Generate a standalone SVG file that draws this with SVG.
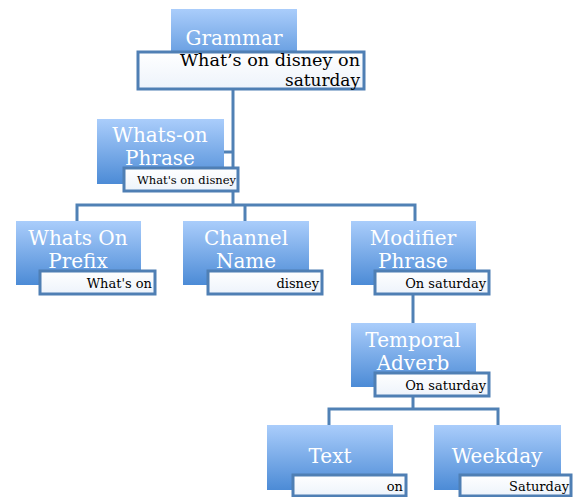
<svg xmlns="http://www.w3.org/2000/svg" width="573" height="497" viewBox="0 0 573 497">
<defs>
<linearGradient id="bg" x1="0" y1="0" x2="0" y2="1">
<stop offset="0" stop-color="#aacdfb"/>
<stop offset="1" stop-color="#4c8bd6"/>
</linearGradient>
<linearGradient id="lg" x1="0" y1="0" x2="0" y2="1">
<stop offset="0" stop-color="#ffffff"/>
<stop offset="1" stop-color="#edf3fb"/>
</linearGradient>
</defs>
<style>
.box{fill:url(#bg);stroke:none}
.lab{fill:url(#lg);stroke:#4f7fb4;stroke-width:3}
.t{font-family:"DejaVu Serif","Liberation Serif",serif;font-size:20px;fill:#ffffff;text-anchor:middle}
.l{font-family:"DejaVu Serif","Liberation Serif",serif;font-size:13px;fill:#000000;text-anchor:end}
.c{fill:none;stroke:#5081b5;stroke-width:3}
</style>
<g id="connectors">
<path class="c" d="M233,89 V205"/>
<path class="c" d="M224,152 H233"/>
<path class="c" d="M77,222 V205 H415 V222"/>
<path class="c" d="M245,205 V222"/>
<path class="c" d="M413,294 V323"/>
<path class="c" d="M413,397 V409"/>
<path class="c" d="M329,426 V409 H498 V426"/>
</g>
<g id="grammar">
<rect class="box" x="171" y="9" width="126" height="64"/>
<text class="t" x="234" y="45">Grammar</text>
<rect class="lab" x="138" y="52" width="226" height="37"/>
<text class="l" x="360" y="66" style="font-size:16px" textLength="180" lengthAdjust="spacingAndGlyphs">What’s on disney on</text>
<text class="l" x="360" y="86" style="font-size:16px" textLength="75" lengthAdjust="spacingAndGlyphs">saturday</text>
</g>
<g id="whats-on-phrase">
<rect class="box" x="97" y="119" width="127" height="65"/>
<text class="t" x="160" y="142">Whats-on</text>
<text class="t" x="160" y="165">Phrase</text>
<rect class="lab" x="124" y="168" width="114" height="23"/>
<text class="l" x="236" y="184" style="font-size:11.5px">What's on disney</text>
</g>
<g id="whats-on-prefix">
<rect class="box" x="16" y="221" width="125" height="64"/>
<text class="t" x="78" y="245">Whats On</text>
<text class="t" x="78" y="268">Prefix</text>
<rect class="lab" x="40" y="271" width="115" height="23"/>
<text class="l" x="152" y="288">What's on</text>
</g>
<g id="channel-name">
<rect class="box" x="183" y="221" width="126" height="64"/>
<text class="t" x="246" y="245">Channel</text>
<text class="t" x="246" y="268">Name</text>
<rect class="lab" x="208" y="271" width="114" height="23"/>
<text class="l" x="319" y="288">disney</text>
</g>
<g id="modifier-phrase">
<rect class="box" x="351" y="221" width="125" height="64"/>
<text class="t" x="413" y="245">Modifier</text>
<text class="t" x="413" y="268">Phrase</text>
<rect class="lab" x="375" y="271" width="114" height="23"/>
<text class="l" x="486" y="288">On saturday</text>
</g>
<g id="temporal-adverb">
<rect class="box" x="351" y="323" width="125" height="64"/>
<text class="t" x="413" y="347">Temporal</text>
<text class="t" x="413" y="370">Adverb</text>
<rect class="lab" x="375" y="373" width="114" height="23"/>
<text class="l" x="486" y="390">On saturday</text>
</g>
<g id="text-node">
<rect class="box" x="267" y="425" width="126" height="65"/>
<text class="t" x="330" y="463">Text</text>
<rect class="lab" x="293" y="475" width="113" height="21"/>
<text class="l" x="403" y="491">on</text>
</g>
<g id="weekday">
<rect class="box" x="434" y="425" width="127" height="65"/>
<text class="t" x="497" y="463">Weekday</text>
<rect class="lab" x="460" y="475" width="111" height="21"/>
<text class="l" x="569" y="491">Saturday</text>
</g>
</svg>
